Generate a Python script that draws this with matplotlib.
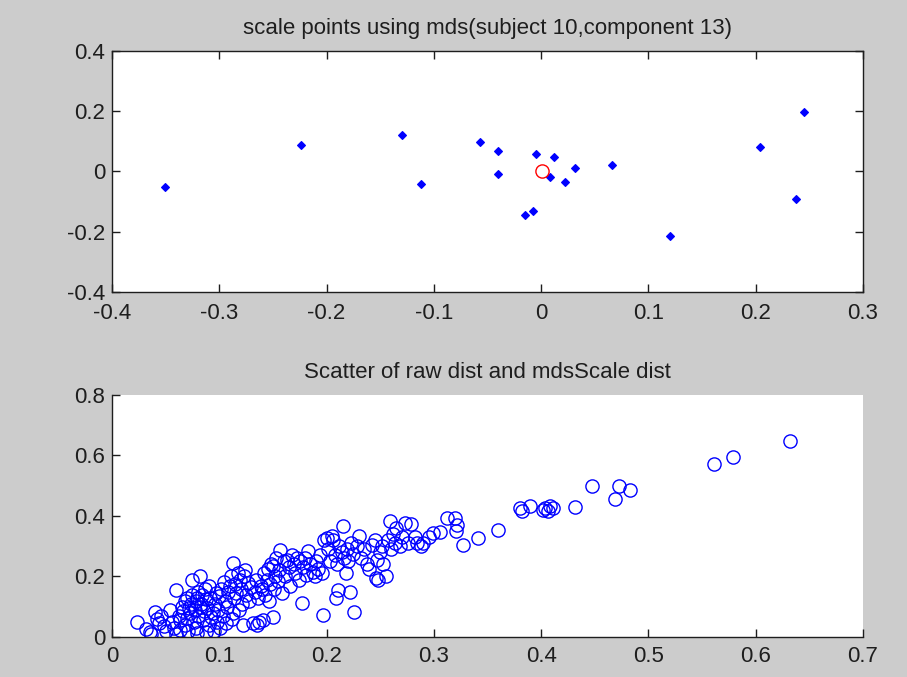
import matplotlib
matplotlib.use("Agg")
import matplotlib.pyplot as plt

# ---- Top panel: MDS scaled points ----
mds_x = [-0.351, -0.224, -0.130, -0.112, -0.057, -0.040, -0.040, -0.005, 0.012,
         0.008, 0.022, 0.032, 0.066, -0.015, -0.008, 0.1205, 0.204, 0.245, 0.238]
mds_y = [-0.051, 0.087, 0.121, -0.040, 0.098, 0.069, -0.007, 0.058, 0.047,
         -0.019, -0.034, 0.011, 0.023, -0.144, -0.132, -0.213, 0.081, 0.196, -0.092]
subject_x = [0.001]
subject_y = [0.0]

# ---- Bottom panel: raw dist vs mdsScale dist ----
raw_dist = [
    0.023, 0.032, 0.035, 0.036, 0.040, 0.042, 0.046, 0.048, 0.050, 0.044,
    0.054, 0.056, 0.058, 0.060, 0.060, 0.062, 0.063, 0.063, 0.065, 0.066,
    0.068, 0.068, 0.070, 0.070, 0.071, 0.072, 0.073, 0.074, 0.075, 0.075,
    0.076, 0.077, 0.078, 0.078, 0.079, 0.079, 0.080, 0.080, 0.082, 0.082,
    0.083, 0.084, 0.085, 0.086, 0.087, 0.088, 0.088, 0.089, 0.090, 0.090,
    0.091, 0.092, 0.094, 0.095, 0.096, 0.097, 0.098, 0.099, 0.100, 0.101,
    0.102, 0.103, 0.104, 0.105, 0.106, 0.107, 0.108, 0.110,
    0.111, 0.112, 0.113, 0.113, 0.114, 0.115, 0.116, 0.117, 0.118, 0.119,
    0.120, 0.121, 0.122, 0.123, 0.124, 0.125, 0.127, 0.128, 0.130, 0.131,
    0.133, 0.134, 0.135, 0.136, 0.137, 0.139,
    0.140, 0.141, 0.142, 0.143, 0.144, 0.145, 0.146, 0.147, 0.148, 0.150,
    0.150, 0.151, 0.152, 0.153, 0.155, 0.156, 0.157, 0.158, 0.160, 0.161,
    0.163, 0.165, 0.166, 0.168,
    0.170, 0.171, 0.172, 0.174, 0.175, 0.177, 0.178, 0.180, 0.181, 0.183,
    0.185, 0.187, 0.189, 0.190, 0.192, 0.194, 0.196, 0.197, 0.198, 0.200,
    0.201, 0.203, 0.205, 0.206, 0.208,
    0.209, 0.210, 0.211, 0.212, 0.214, 0.215, 0.216, 0.218, 0.219, 0.220,
    0.222, 0.223, 0.225, 0.226, 0.228, 0.230, 0.232, 0.235, 0.238, 0.240,
    0.242, 0.245,
    0.246, 0.247, 0.248, 0.250, 0.252, 0.253, 0.255, 0.257, 0.259, 0.260,
    0.262, 0.264, 0.265, 0.268, 0.270, 0.273, 0.276, 0.279,
    0.282, 0.284, 0.288, 0.290, 0.295, 0.299, 0.306, 0.312, 0.320, 0.321,
    0.322, 0.327, 0.341,
    0.360, 0.380, 0.382, 0.390, 0.402, 0.404, 0.406, 0.408, 0.411, 0.432,
    0.447, 0.469, 0.473, 0.483, 0.561, 0.579, 0.632]
mds_dist = [
    0.050, 0.028, 0.018, 0.010, 0.084, 0.060, 0.068, 0.035, 0.020, 0.045,
    0.090, 0.050, 0.030, 0.156, 0.010, 0.070, 0.056, 0.023, 0.100, 0.085,
    0.118, 0.040, 0.130, 0.062, 0.020, 0.095, 0.078, 0.110, 0.189, 0.140,
    0.050, 0.090, 0.120, 0.030, 0.128, 0.012, 0.070, 0.150, 0.200, 0.100,
    0.110, 0.140, 0.055, 0.085, 0.160, 0.018, 0.125, 0.095, 0.040, 0.170,
    0.130, 0.065, 0.078, 0.020, 0.110, 0.145, 0.050, 0.090, 0.134, 0.030,
    0.160, 0.070, 0.183, 0.120, 0.045, 0.100, 0.150, 0.170,
    0.200, 0.060, 0.244, 0.078, 0.130, 0.175, 0.145, 0.210, 0.090, 0.189,
    0.160, 0.110, 0.040, 0.200, 0.222, 0.140, 0.180, 0.120, 0.165, 0.045,
    0.150, 0.190, 0.040, 0.130, 0.050, 0.170,
    0.160, 0.056, 0.210, 0.140, 0.190, 0.225, 0.120, 0.175, 0.240, 0.067,
    0.233, 0.160, 0.200, 0.260, 0.185, 0.220, 0.288, 0.145, 0.250, 0.200,
    0.255, 0.230, 0.170, 0.270,
    0.240, 0.210, 0.260, 0.190, 0.250, 0.112, 0.230, 0.260, 0.205, 0.283,
    0.240, 0.215, 0.200, 0.250, 0.225, 0.270, 0.210, 0.073, 0.320, 0.327,
    0.290, 0.250, 0.334, 0.321, 0.270,
    0.128, 0.240, 0.156, 0.300, 0.280, 0.366, 0.260, 0.210, 0.290, 0.250,
    0.150, 0.310, 0.275, 0.081, 0.300, 0.334, 0.260, 0.290, 0.240, 0.225,
    0.305, 0.320,
    0.195, 0.256, 0.190, 0.280, 0.300, 0.240, 0.200, 0.320, 0.382, 0.290,
    0.340, 0.310, 0.360, 0.300, 0.330, 0.378, 0.310, 0.375,
    0.330, 0.310, 0.300, 0.310, 0.330, 0.344, 0.348, 0.393, 0.393, 0.349,
    0.370, 0.305, 0.327,
    0.354, 0.427, 0.418, 0.432, 0.420, 0.428, 0.415, 0.432, 0.425, 0.429,
    0.498, 0.457, 0.498, 0.487, 0.572, 0.594, 0.647]

title_top = "scale points using mds(subject 10,component 13)"
title_bottom = "Scatter of raw dist and mdsScale dist"
top_xticks = [-0.4, -0.3, -0.2, -0.1, 0, 0.1, 0.2, 0.3]
top_xlabels = ["-0.4", "-0.3", "-0.2", "-0.1", "0", "0.1", "0.2", "0.3"]
top_yticks = [-0.4, -0.2, 0, 0.2, 0.4]
top_ylabels = ["-0.4", "-0.2", "0", "0.2", "0.4"]
bot_xticks = [0, 0.1, 0.2, 0.3, 0.4, 0.5, 0.6, 0.7]
bot_xlabels = ["0", "0.1", "0.2", "0.3", "0.4", "0.5", "0.6", "0.7"]
bot_yticks = [0, 0.2, 0.4, 0.6, 0.8]
bot_ylabels = ["0", "0.2", "0.4", "0.6", "0.8"]

plt.rcParams['font.family'] = ['Liberation Sans', 'DejaVu Sans']
FS = 16
TXT = '#1e1e1e'

fig = plt.figure(figsize=(9.07, 6.77), dpi=100, facecolor='#cccccc')
ax1 = fig.add_axes([0.1235, 0.5687, 0.828, 0.356])
ax2 = fig.add_axes([0.1235, 0.0591, 0.828, 0.3575])

ax1.plot(mds_x, mds_y, linestyle='none', marker='D', markersize=4.4,
         color='#0000ff', markeredgewidth=0.8)
ax1.plot(subject_x, subject_y, linestyle='none', marker='o', markersize=9.5,
         markerfacecolor='none', markeredgecolor='#ff0000', markeredgewidth=1.0)
ax1.set_xlim(-0.4, 0.3)
ax1.set_ylim(-0.4, 0.4)
ax1.set_xticks(top_xticks)
ax1.set_xticklabels(top_xlabels)
ax1.set_yticks(top_yticks)
ax1.set_yticklabels(top_ylabels)
ax1.set_title(title_top, fontsize=FS, color=TXT, pad=12)
ax1.tick_params(direction='in', length=6, width=1, top=True, right=True,
                labelsize=FS, colors=TXT)
ax1.tick_params(axis='x', pad=8)
ax1.tick_params(axis='y', pad=5)

ax2.plot(raw_dist, mds_dist, linestyle='none', marker='o', markersize=9.5,
         markerfacecolor='none', markeredgecolor='#0000ff', markeredgewidth=1.0)
ax2.set_xlim(0, 0.7)
ax2.set_ylim(0, 0.8)
ax2.set_xticks(bot_xticks)
ax2.set_xticklabels(bot_xlabels)
ax2.set_yticks(bot_yticks)
ax2.set_yticklabels(bot_ylabels)
ax2.set_title(title_bottom, fontsize=FS, color=TXT, pad=12)
ax2.tick_params(direction='in', length=6, width=1, labelsize=FS, colors=TXT)
ax2.tick_params(axis='x', pad=6.5)
ax2.tick_params(axis='y', pad=5)
ax2.spines['top'].set_visible(False)
ax2.spines['right'].set_visible(False)

for ax in (ax1, ax2):
    for s in ax.spines.values():
        s.set_color(TXT)
        s.set_linewidth(1.0)

fig.savefig('out.png', dpi=100, facecolor=fig.get_facecolor())
